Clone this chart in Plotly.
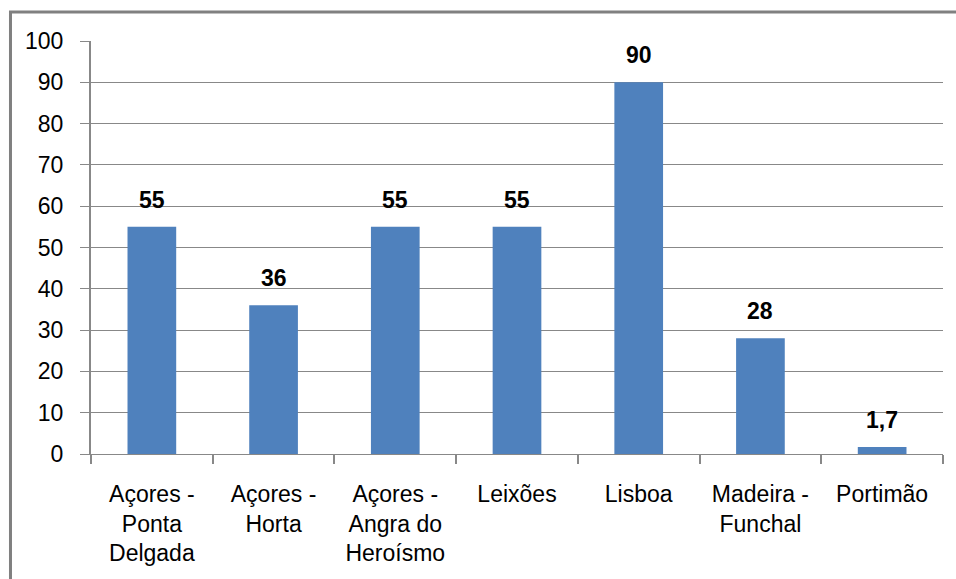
import plotly.graph_objects as go

categories = ["Açores -<br>Ponta<br>Delgada", "Açores -<br>Horta", "Açores -<br>Angra do<br>Heroísmo",
              "Leixões", "Lisboa", "Madeira -<br>Funchal", "Portimão"]
values = [55, 36, 55, 55, 90, 28, 1.7]
value_labels = ["55", "36", "55", "55", "90", "28", "1,7"]
y_ticks = [0, 10, 20, 30, 40, 50, 60, 70, 80, 90, 100]

FONT = "Liberation Sans"
GRID = "#888888"

fig = go.Figure()
fig.add_trace(go.Bar(x=categories, y=values, marker=dict(color="#4F81BD", line=dict(width=0)),
                     width=0.4, hoverinfo="skip"))

for c, v, t in zip(categories, values, value_labels):
    fig.add_annotation(x=c, y=v, text="<b>" + t + "</b>", showarrow=False, yanchor="middle",
                       yshift=27, font=dict(family=FONT, size=23, color="black"))

# chart border
fig.add_shape(type="rect", xref="paper", yref="paper", x0=-0.0945, x1=1.2, y0=-0.5, y1=1.0702,
              line=dict(color="#808080", width=3), fillcolor="rgba(0,0,0,0)", layer="below")

fig.update_layout(
    width=956, height=579,
    margin=dict(l=91, r=13, t=41, b=125),
    paper_bgcolor="white", plot_bgcolor="white",
    showlegend=False,
    font=dict(family=FONT, size=23, color="black"),
    bargap=0.6,
)
fig.update_yaxes(range=[0, 100], tickvals=y_ticks, showgrid=True, gridcolor=GRID, gridwidth=1,
                 showline=True, linecolor=GRID, linewidth=2, ticks="outside", ticklen=9,
                 tickcolor=GRID, tickwidth=1, zeroline=False, fixedrange=True,
                 ticklabelstandoff=12,
                 tickfont=dict(family=FONT, size=23, color="black"))
fig.update_xaxes(showline=True, linecolor=GRID, linewidth=1, ticks="outside", ticklen=9,
                 tickson="boundaries", tickcolor=GRID, tickwidth=2, showgrid=False,
                 ticklabelstandoff=19,
                 tickfont=dict(family=FONT, size=23, color="black"), fixedrange=True)

fig.write_html("out.html", config={"displayModeBar": False},
               post_script="document.body.style.margin='0';")
